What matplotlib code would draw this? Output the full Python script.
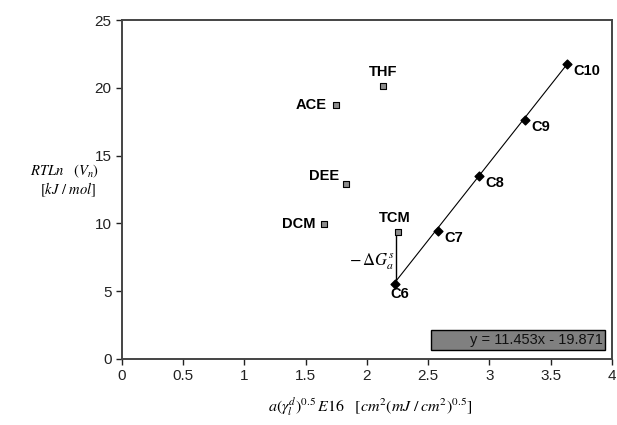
import numpy as np
import matplotlib.pyplot as plt

plt.rcParams['font.family'] = 'Liberation Sans'
plt.rcParams['mathtext.fontset'] = 'stix'

# n-alkanes (reference line)
alk_names = ['C6', 'C7', 'C8', 'C9', 'C10']
alk_x = [2.229, 2.58, 2.917, 3.29, 3.635]
alk_y = [5.53, 9.46, 13.5, 17.63, 21.76]

# polar probes
pol_names = ['THF', 'ACE', 'DEE', 'DCM', 'TCM']
pol_x = [2.133, 1.747, 1.826, 1.649, 2.25]
pol_y = [20.13, 18.7, 12.9, 9.96, 9.39]

slope, intercept = 11.453, -19.871

fig = plt.figure(figsize=(6.17, 4.25), dpi=100)
ax = fig.add_axes([0.1977, 0.1553, 0.7942, 0.7976])

# trendline through the alkanes
xl = np.array([alk_x[0], alk_x[-1]])
ax.plot(xl, slope * xl + intercept, color='black', lw=0.8, zorder=2)
ax.scatter(alk_x, alk_y, marker='D', s=20, color='black', zorder=3)
ax.scatter(pol_x, pol_y, marker='s', s=20, facecolor='#8c8c8c',
           edgecolor='black', linewidths=0.8, zorder=3)

# -dG line from C6 up to TCM
ax.plot([2.24, 2.24], [alk_y[0], pol_y[4]], color='black', lw=1.0, zorder=2)
ax.text(2.225, 7.2, r'$-\,\Delta G_a^s$', fontsize=12, ha='right', va='center')

lab = dict(fontsize=10.5, fontweight='bold')
# alkane labels (to the right, slightly below)
ax.text(alk_x[0] - 0.04, alk_y[0] - 0.75, 'C6', ha='left', va='center', **lab)
for n, x, y in zip(alk_names[1:], alk_x[1:], alk_y[1:]):
    ax.text(x + 0.05, y - 0.5, n, ha='left', va='center', **lab)

ax.text(pol_x[0], pol_y[0] + 1.0, 'THF', ha='center', va='center', **lab)
ax.text(pol_x[1] - 0.08, pol_y[1], 'ACE', ha='right', va='center', **lab)
ax.text(pol_x[2] - 0.05, pol_y[2] + 0.6, 'DEE', ha='right', va='center', **lab)
ax.text(pol_x[3] - 0.07, pol_y[3], 'DCM', ha='right', va='center', **lab)
ax.text(pol_x[4] - 0.02, pol_y[4] + 1.0, 'TCM', ha='center', va='center', **lab)

# equation box
ax.add_patch(plt.Rectangle((0.63, 0.0265), 0.356, 0.059, transform=ax.transAxes,
                           facecolor='#808080', edgecolor='black', lw=1.0, zorder=4))
ax.text(0.982, 0.056, 'y = 11.453x - 19.871', transform=ax.transAxes,
        ha='right', va='center', fontsize=10.5, color='#111111', zorder=5)

ax.set_xlim(0, 4)
ax.set_ylim(0, 25)
ax.set_xticks(np.arange(0, 4.01, 0.5))
ax.set_xticklabels(['0', '0.5', '1', '1.5', '2', '2.5', '3', '3.5', '4'])
ax.set_yticks(range(0, 26, 5))
ax.tick_params(direction='out', length=4, width=1.0, labelsize=11, colors='#222222')
for s in ax.spines.values():
    s.set_color('#444444')
    s.set_linewidth(1.4)

fig.text(0.60, 0.043,
         r'$a(\gamma_l^d)^{0.5}\,E16\quad[cm^2(mJ\ /\, cm^2)^{0.5}]$',
         ha='center', va='center', fontsize=11.5)
fig.text(0.105, 0.598, r'$RTLn\quad (V_n)$', ha='center', va='center', fontsize=10.5)
fig.text(0.11, 0.553, r'$[kJ\ /\ mol]$', ha='center', va='center', fontsize=10.5)

fig.savefig('out.png', dpi=100)
